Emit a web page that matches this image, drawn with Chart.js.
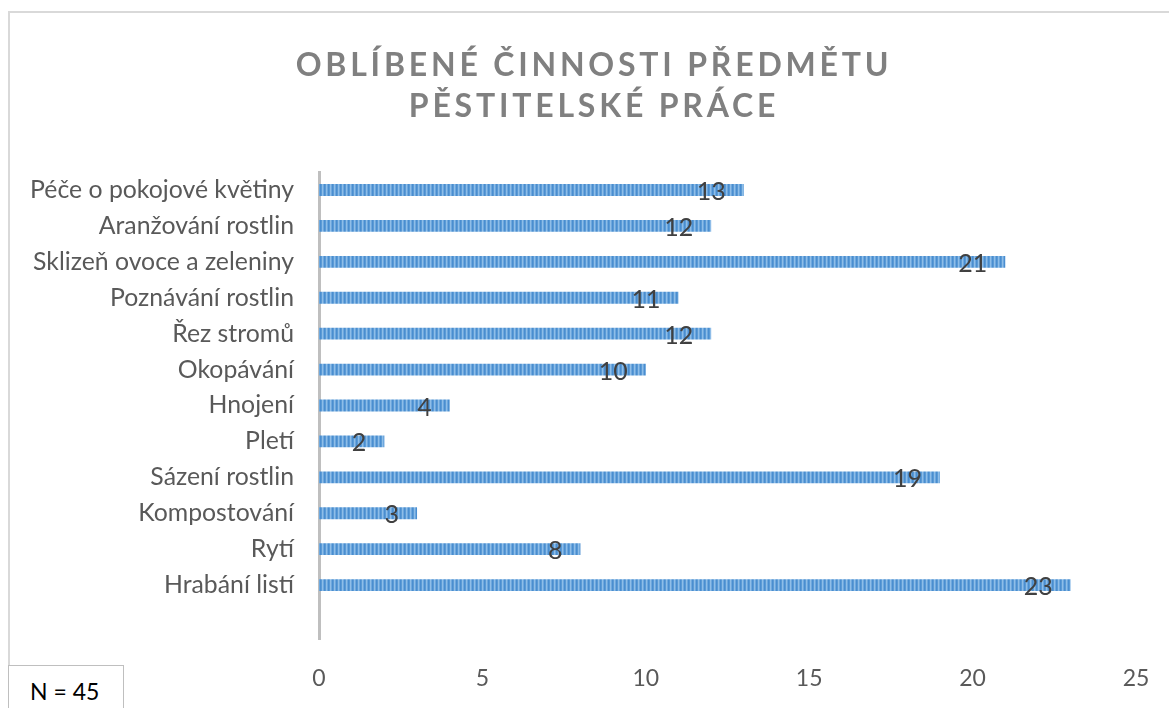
<!DOCTYPE html>
<html>
<head>
<meta charset="utf-8">
<script src="https://cdn.jsdelivr.net/npm/chart.js@4/dist/chart.umd.min.js"></script>
<style>
  html, body { margin: 0; padding: 0; background: #fff; }
  #wrap { position: relative; width: 1169px; height: 708px; overflow: hidden; }
  #frame {
    position: absolute; left: 8px; top: 11px; width: 1300px; height: 900px;
    border-left: 2px solid #d9d9d9; border-top: 2px solid #d9d9d9;
  }
  #title {
    position: absolute; left: 0; top: 43px; width: 1188px; text-align: center;
    font-family: Lato, sans-serif; font-weight: 700; font-size: 32px;
    letter-spacing: 3.8px; line-height: 41px; color: #808080;
  }
  #nbox {
    position: absolute; left: 8px; top: 665px; width: 114px; height: 60px;
    border: 1.5px solid #bfbfbf; background: #fff;
    font-family: Lato, sans-serif; font-size: 23px; color: #000;
  }
  #nbox span { position: absolute; left: 21px; top: 11px; }
  canvas { position: absolute; left: 0; top: 0; }
</style>
</head>
<body>
<div id="wrap">
  <div id="frame"></div>
  <canvas id="chart" width="1169" height="708"></canvas>
  <div id="title">OBLÍBENÉ ČINNOSTI PŘEDMĚTU<br>PĚSTITELSKÉ PRÁCE</div>
  <div id="nbox"><span>N = 45</span></div>
</div>
<script>
// categories, top to bottom (last row is empty in the original)
const activities = [
  "Péče o pokojové květiny",
  "Aranžování rostlin",
  "Sklizeň ovoce a zeleniny",
  "Poznávání rostlin",
  "Řez stromů",
  "Okopávání",
  "Hnojení",
  "Pletí",
  "Sázení rostlin",
  "Kompostování",
  "Rytí",
  "Hrabání listí",
  "",
];
const counts = [13, 12, 21, 11, 12, 10, 4, 2, 19, 3, 8, 23, null];
const xTicks = [0, 5, 10, 15, 20, 25];

// striped blue fill like the original bars
const stripe = document.createElement("canvas");
stripe.width = 4;
stripe.height = 1;
const sctx = stripe.getContext("2d");
["#4a8dd0", "#5b9bd5", "#8fbde8", "#6da8de"].forEach((c, i) => {
  sctx.fillStyle = c;
  sctx.fillRect(i, 0, 1, 1);
});
const ctx = document.getElementById("chart").getContext("2d");
const barFill = ctx.createPattern(stripe, "repeat");

// value labels near the end of each bar
const valueLabels = {
  id: "valueLabels",
  afterDatasetsDraw(chart) {
    const c = chart.ctx;
    const meta = chart.getDatasetMeta(0);
    c.save();
    c.font = "25px Lato";
    c.fillStyle = "#404040";
    c.textAlign = "right";
    c.textBaseline = "middle";
    meta.data.forEach((bar, i) => {
      if (counts[i] == null) return;
      c.fillText(String(counts[i]), bar.x - 18, bar.y + 2);
    });
    c.restore();
  },
};

new Chart(ctx, {
  type: "bar",
  data: {
    labels: activities,
    datasets: [
      {
        data: counts,
        backgroundColor: barFill,
        borderWidth: 0,
        categoryPercentage: 1,
        barPercentage: 0.33,
      },
    ],
  },
  options: {
    indexAxis: "y",
    responsive: false,
    animation: false,
    layout: { padding: { top: 172, right: 33, left: 0, bottom: 0 } },
    plugins: {
      legend: { display: false },
      tooltip: { enabled: false },
    },
    scales: {
      x: {
        min: 0,
        max: 25,
        afterBuildTicks: (scale) => {
          scale.ticks = xTicks.map((v) => ({ value: v }));
        },
        afterFit: (scale) => {
          scale.height = 69;
          scale.paddingRight = 0;
          scale.paddingLeft = 0;
        },
        grid: { display: false, drawTicks: false },
        border: { display: false },
        ticks: {
          padding: 26,
          color: "#595959",
          font: { family: "Lato", size: 23 },
          maxRotation: 0,
        },
      },
      y: {
        afterFit: (scale) => {
          scale.width = 319;
        },
        grid: { display: false, drawTicks: false },
        border: { display: true, color: "#bfbfbf", width: 3 },
        ticks: {
          padding: 25,
          color: "#595959",
          font: { family: "Lato", size: 24.8 },
        },
      },
    },
  },
  plugins: [valueLabels],
});
</script>
</body>
</html>
